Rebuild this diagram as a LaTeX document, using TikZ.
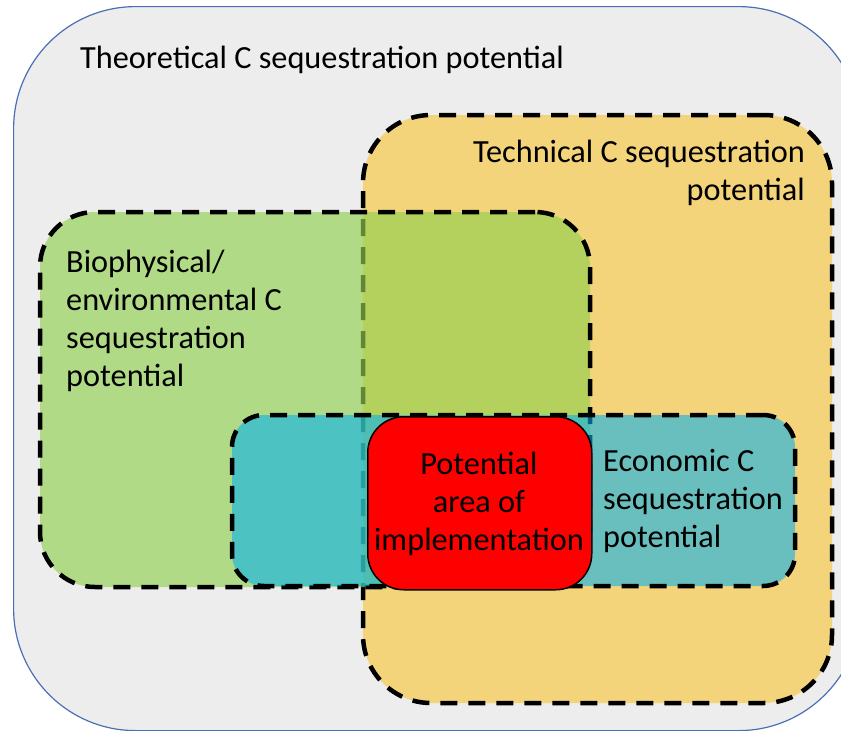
\documentclass[tikz,border=0pt]{standalone}
\usepackage{fontspec}
\setmainfont{Carlito}
\definecolor{bgGray}{HTML}{EDEDED}
\definecolor{outerBlue}{HTML}{4A6FB5}
\definecolor{techYellow}{HTML}{F4D47A}
\definecolor{bioGreen}{HTML}{92D050}
\definecolor{ecoBlue}{HTML}{00B0F0}
\definecolor{implRed}{HTML}{FF0000}
\begin{document}
\begin{tikzpicture}[x=1pt,y=-1pt,
  region/.style={draw=black, line width=4.5pt, dash pattern=on 17pt off 11pt,
    inner sep=0pt, outer sep=0pt, anchor=north west},
  lbl/.style={font=\fontsize{32.3}{37.7}\selectfont, inner sep=0pt, text=black}]
\useasboundingbox (0,0) rectangle (841,731);
\clip (0,0) rectangle (841,731);
\fill[white] (0,0) rectangle (841,731);
\node[draw=outerBlue, fill=bgGray, line width=1.2pt, rounded corners=122pt,
  minimum width=847pt, minimum height=724pt, inner sep=0pt, anchor=north west] (theo) at (13,6) {};
\node[region, fill=techYellow, rounded corners=68pt,
  minimum width=469pt, minimum height=588pt] (tech) at (363,115) {};
\node[region, fill=bioGreen, fill opacity=0.65, rounded corners=55pt,
  minimum width=550pt, minimum height=375pt] (bio) at (40,212) {};
\node[region, fill=ecoBlue, fill opacity=0.57, rounded corners=32pt,
  minimum width=563pt, minimum height=171pt] (eco) at (232,415) {};
\node[draw=black, fill=implRed, line width=1.5pt, rounded corners=36pt,
  minimum width=224pt, minimum height=173pt, inner sep=0pt, anchor=north west] (impl) at (367,416) {};
\node[lbl, anchor=base west] (theoT) at (80,68) {Theoretical C sequestration potential};
\node[lbl, anchor=base east, align=right] (techT) at (805,200) {Technical C sequestration\\potential};
\node[lbl, anchor=base west, align=left] (bioT) at (66,386) {Biophysical/\\environmental C\\sequestration\\potential};
\node[lbl, anchor=base, align=center] (implT) at (479,550) {Potential\\area of\\implementation};
\node[lbl, anchor=base west, align=left] (ecoT) at (603,547) {Economic C\\sequestration\\potential};
\end{tikzpicture}
\end{document}
